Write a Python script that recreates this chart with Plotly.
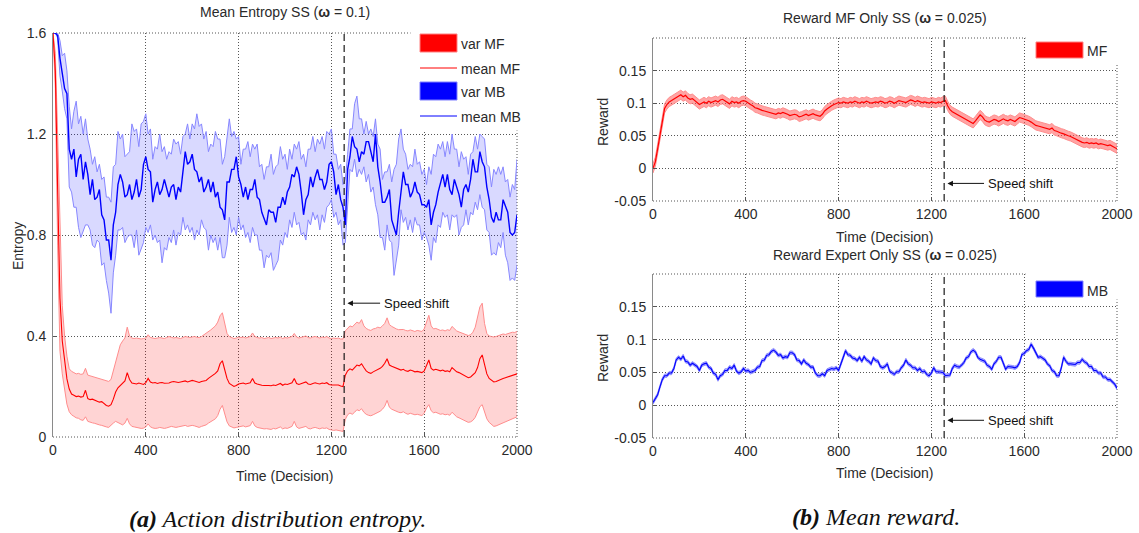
import plotly.graph_objects as go

# ---------------- data ----------------
decisions = list(range(0, 2001, 10))
speed_shift_decision = 1255

mb_entropy_mean = [
    1.60, 1.60, 1.59, 1.50, 1.44, 1.38, 1.36, 1.14, 1.10, 1.14,
    1.03, 1.10, 1.12, 1.02, 1.09, 1.04, 0.96, 1.02, 0.94, 0.95,
    0.98, 0.88, 0.86, 0.78, 0.78, 0.70, 0.84, 0.89, 1.00, 1.04,
    1.01, 0.95, 0.96, 1.00, 0.94, 0.97, 1.02, 0.95, 0.98, 1.08,
    1.11, 1.06, 1.05, 0.93, 0.98, 1.01, 0.96, 0.98, 1.02, 0.99,
    0.95, 0.99, 1.00, 0.94, 0.99, 0.97, 1.06, 1.13, 1.08, 1.09,
    1.12, 1.06, 1.05, 1.01, 1.03, 0.97, 0.99, 1.02, 0.97, 1.01,
    0.95, 0.97, 0.91, 0.90, 0.86, 1.01, 1.01, 1.06, 1.06, 1.11,
    1.03, 1.00, 0.95, 0.99, 0.94, 0.98, 0.98, 1.02, 0.95, 0.94,
    0.89, 0.86, 0.84, 0.90, 0.89, 0.89, 0.85, 0.91, 0.91, 0.95,
    0.92, 0.97, 0.99, 1.04, 1.03, 1.07, 1.04, 0.97, 0.88, 0.94,
    0.96, 1.03, 0.99, 1.03, 1.06, 1.02, 1.02, 0.98, 1.01, 1.08,
    1.09, 1.05, 0.96, 1.00, 0.94, 0.91, 0.84, 1.06, 1.11, 1.19,
    1.15, 1.14, 1.09, 1.13, 1.12, 1.17, 1.17, 1.13, 1.09, 1.20,
    1.07, 1.01, 0.93, 0.93, 0.95, 0.98, 0.86, 0.83, 0.80, 0.89,
    0.98, 1.05, 1.00, 1.00, 0.95, 0.97, 1.01, 0.97, 0.96, 0.92,
    0.92, 0.91, 0.94, 0.84, 0.89, 0.92, 0.97, 1.00, 1.04, 0.99,
    1.04, 0.98, 0.96, 1.02, 0.99, 0.96, 0.91, 0.98, 1.00, 0.97,
    1.02, 1.10, 1.05, 1.05, 1.13, 1.09, 1.07, 0.99, 0.94, 0.87,
    0.85, 0.89, 0.86, 0.86, 0.94, 0.91, 0.89, 0.81, 0.80, 0.81,
    0.88,
]
mb_entropy_upper = [
    1.60, 1.60, 1.60, 1.57, 1.51, 1.52, 1.45, 1.31, 1.22, 1.29,
    1.33, 1.24, 1.27, 1.20, 1.26, 1.18, 1.14, 1.08, 1.11, 1.05,
    1.08, 1.02, 1.03, 0.95, 0.95, 0.93, 1.07, 1.08, 1.21, 1.18,
    1.20, 1.11, 1.12, 1.13, 1.24, 1.21, 1.22, 1.15, 1.24, 1.25,
    1.28, 1.20, 1.22, 1.10, 1.15, 1.14, 1.20, 1.13, 1.15, 1.10,
    1.13, 1.12, 1.18, 1.16, 1.17, 1.12, 1.19, 1.20, 1.24, 1.18,
    1.24, 1.22, 1.28, 1.23, 1.24, 1.18, 1.21, 1.13, 1.16, 1.15,
    1.21, 1.18, 1.18, 1.08, 1.11, 1.19, 1.26, 1.19, 1.21, 1.18,
    1.19, 1.08, 1.14, 1.14, 1.17, 1.11, 1.16, 1.14, 1.16, 1.07,
    1.08, 1.02, 1.07, 1.07, 1.12, 1.04, 1.07, 1.08, 1.15, 1.10,
    1.12, 1.06, 1.14, 1.10, 1.16, 1.14, 1.17, 1.10, 1.12, 1.07,
    1.14, 1.14, 1.19, 1.13, 1.18, 1.16, 1.19, 1.14, 1.21, 1.20,
    1.22, 1.12, 1.12, 1.06, 1.08, 1.00, 1.02, 1.12, 1.22, 1.22,
    1.32, 1.35, 1.26, 1.26, 1.20, 1.25, 1.20, 1.22, 1.19, 1.26,
    1.16, 1.14, 1.02, 1.05, 1.05, 1.08, 1.01, 1.06, 1.08, 1.18,
    1.22, 1.14, 1.12, 1.06, 1.08, 1.07, 1.14, 1.08, 1.09, 1.04,
    1.06, 1.00, 1.07, 1.04, 1.12, 1.11, 1.16, 1.14, 1.17, 1.11,
    1.17, 1.12, 1.20, 1.14, 1.14, 1.07, 1.13, 1.10, 1.11, 1.04,
    1.12, 1.13, 1.19, 1.14, 1.20, 1.19, 1.18, 1.08, 1.07, 0.99,
    1.06, 1.04, 1.07, 1.04, 1.07, 1.01, 1.02, 0.95, 1.00, 0.98,
    1.10,
]
mb_entropy_lower = [
    1.60, 1.60, 1.58, 1.43, 1.37, 1.30, 1.26, 0.99, 0.97, 0.91,
    0.91, 0.83, 0.79, 0.82, 0.84, 0.84, 0.82, 0.76, 0.75, 0.78,
    0.77, 0.68, 0.69, 0.62, 0.57, 0.49, 0.65, 0.72, 0.82, 0.82,
    0.83, 0.77, 0.79, 0.80, 0.80, 0.75, 0.82, 0.72, 0.75, 0.77,
    0.83, 0.81, 0.84, 0.78, 0.80, 0.77, 0.78, 0.69, 0.75, 0.74,
    0.79, 0.77, 0.82, 0.76, 0.81, 0.80, 0.87, 0.82, 0.84, 0.81,
    0.83, 0.78, 0.82, 0.80, 0.86, 0.83, 0.82, 0.74, 0.80, 0.77,
    0.79, 0.74, 0.79, 0.71, 0.71, 0.76, 0.87, 0.81, 0.83, 0.80,
    0.87, 0.82, 0.84, 0.79, 0.81, 0.77, 0.83, 0.80, 0.80, 0.74,
    0.74, 0.67, 0.72, 0.71, 0.73, 0.66, 0.68, 0.70, 0.78, 0.76,
    0.81, 0.79, 0.86, 0.83, 0.89, 0.84, 0.85, 0.80, 0.81, 0.78,
    0.86, 0.84, 0.89, 0.86, 0.88, 0.82, 0.88, 0.85, 0.91, 0.92,
    0.94, 0.87, 0.89, 0.84, 0.86, 0.76, 0.77, 0.90, 1.06, 1.05,
    1.10, 1.03, 1.06, 1.04, 1.07, 1.01, 1.04, 0.97, 0.99, 0.92,
    0.88, 0.79, 0.79, 0.74, 0.84, 0.78, 0.77, 0.64, 0.70, 0.76,
    0.90, 0.85, 0.87, 0.82, 0.86, 0.81, 0.87, 0.84, 0.84, 0.78,
    0.81, 0.79, 0.76, 0.70, 0.79, 0.77, 0.84, 0.83, 0.89, 0.87,
    0.88, 0.82, 0.88, 0.87, 0.88, 0.80, 0.83, 0.84, 0.90, 0.84,
    0.89, 0.88, 0.93, 0.90, 0.96, 0.91, 0.90, 0.82, 0.81, 0.72,
    0.73, 0.72, 0.77, 0.75, 0.81, 0.72, 0.69, 0.62, 0.63, 0.62,
    0.68,
]
mf_entropy_mean = [
    1.60, 1.45, 0.98, 0.55, 0.38, 0.30, 0.23, 0.19, 0.17, 0.165,
    0.160, 0.162, 0.158, 0.160, 0.185, 0.152, 0.148, 0.150, 0.145, 0.142,
    0.138, 0.140, 0.132, 0.125, 0.122, 0.128, 0.150, 0.178, 0.195, 0.205,
    0.212, 0.222, 0.255, 0.228, 0.214, 0.212, 0.210, 0.214, 0.212, 0.208,
    0.215, 0.232, 0.218, 0.214, 0.216, 0.212, 0.215, 0.216, 0.213, 0.212,
    0.214, 0.218, 0.220, 0.218, 0.216, 0.218, 0.220, 0.222, 0.218, 0.220,
    0.224, 0.222, 0.218, 0.216, 0.220, 0.222, 0.224, 0.232, 0.238, 0.244,
    0.252, 0.262, 0.290, 0.302, 0.265, 0.232, 0.212, 0.205, 0.200, 0.204,
    0.210, 0.212, 0.214, 0.210, 0.212, 0.215, 0.232, 0.214, 0.210, 0.206,
    0.205, 0.204, 0.205, 0.204, 0.203, 0.206, 0.204, 0.208, 0.212, 0.205,
    0.210, 0.208, 0.212, 0.215, 0.232, 0.212, 0.208, 0.212, 0.214, 0.218,
    0.210, 0.208, 0.212, 0.215, 0.212, 0.210, 0.214, 0.212, 0.215, 0.208,
    0.206, 0.205, 0.204, 0.206, 0.202, 0.200, 0.245, 0.262, 0.270, 0.265,
    0.275, 0.285, 0.282, 0.290, 0.275, 0.262, 0.255, 0.252, 0.258, 0.262,
    0.268, 0.272, 0.280, 0.292, 0.310, 0.285, 0.280, 0.276, 0.272, 0.268,
    0.265, 0.268, 0.262, 0.260, 0.265, 0.262, 0.258, 0.260, 0.256, 0.255,
    0.262, 0.285, 0.305, 0.272, 0.265, 0.268, 0.265, 0.262, 0.265, 0.260,
    0.262, 0.258, 0.275, 0.265, 0.258, 0.255, 0.250, 0.245, 0.238, 0.235,
    0.238, 0.245, 0.255, 0.275, 0.310, 0.325, 0.285, 0.250, 0.232, 0.225,
    0.218, 0.220, 0.225, 0.230, 0.232, 0.235, 0.238, 0.240, 0.242, 0.245,
    0.250,
]
mf_entropy_upper = [
    1.60, 1.52, 1.20, 0.80, 0.52, 0.40, 0.32, 0.27, 0.26, 0.255,
    0.250, 0.252, 0.248, 0.250, 0.272, 0.245, 0.242, 0.240, 0.238, 0.235,
    0.232, 0.230, 0.226, 0.222, 0.220, 0.228, 0.262, 0.300, 0.340, 0.365,
    0.380, 0.392, 0.435, 0.400, 0.392, 0.390, 0.392, 0.390, 0.388, 0.390,
    0.392, 0.405, 0.394, 0.392, 0.390, 0.392, 0.394, 0.392, 0.390, 0.394,
    0.398, 0.395, 0.392, 0.394, 0.392, 0.390, 0.394, 0.398, 0.396, 0.394,
    0.396, 0.398, 0.395, 0.394, 0.398, 0.404, 0.410, 0.418, 0.424, 0.432,
    0.440, 0.455, 0.480, 0.492, 0.450, 0.410, 0.398, 0.394, 0.390, 0.392,
    0.396, 0.394, 0.396, 0.392, 0.394, 0.398, 0.412, 0.398, 0.394, 0.392,
    0.394, 0.390, 0.392, 0.394, 0.390, 0.392, 0.394, 0.392, 0.396, 0.390,
    0.394, 0.392, 0.396, 0.398, 0.410, 0.396, 0.392, 0.395, 0.398, 0.400,
    0.394, 0.392, 0.396, 0.398, 0.395, 0.392, 0.396, 0.394, 0.398, 0.392,
    0.390, 0.392, 0.390, 0.392, 0.388, 0.388, 0.420, 0.432, 0.440, 0.436,
    0.445, 0.455, 0.450, 0.465, 0.440, 0.430, 0.425, 0.422, 0.428, 0.430,
    0.435, 0.432, 0.440, 0.450, 0.472, 0.445, 0.438, 0.432, 0.428, 0.425,
    0.424, 0.426, 0.422, 0.420, 0.424, 0.420, 0.418, 0.422, 0.420, 0.418,
    0.428, 0.455, 0.482, 0.440, 0.428, 0.430, 0.426, 0.422, 0.424, 0.420,
    0.425, 0.422, 0.438, 0.428, 0.420, 0.416, 0.412, 0.410, 0.405, 0.402,
    0.405, 0.415, 0.435, 0.470, 0.515, 0.530, 0.450, 0.410, 0.400, 0.398,
    0.396, 0.398, 0.402, 0.405, 0.408, 0.406, 0.410, 0.412, 0.415, 0.414,
    0.418,
]
mf_entropy_lower = [
    1.60, 1.38, 0.76, 0.34, 0.25, 0.19, 0.13, 0.10, 0.088, 0.082,
    0.076, 0.074, 0.068, 0.066, 0.080, 0.062, 0.058, 0.056, 0.054, 0.050,
    0.048, 0.046, 0.042, 0.040, 0.038, 0.048, 0.055, 0.062, 0.058, 0.052,
    0.048, 0.055, 0.074, 0.052, 0.042, 0.040, 0.038, 0.036, 0.034, 0.035,
    0.040, 0.052, 0.040, 0.036, 0.034, 0.035, 0.038, 0.036, 0.034, 0.036,
    0.038, 0.042, 0.040, 0.038, 0.040, 0.042, 0.044, 0.046, 0.042, 0.044,
    0.046, 0.044, 0.040, 0.038, 0.042, 0.045, 0.048, 0.055, 0.060, 0.066,
    0.072, 0.085, 0.110, 0.125, 0.092, 0.060, 0.044, 0.040, 0.036, 0.038,
    0.040, 0.042, 0.044, 0.040, 0.042, 0.045, 0.062, 0.044, 0.038, 0.035,
    0.034, 0.032, 0.033, 0.032, 0.030, 0.034, 0.032, 0.036, 0.040, 0.032,
    0.036, 0.034, 0.038, 0.042, 0.062, 0.040, 0.034, 0.036, 0.038, 0.042,
    0.034, 0.032, 0.036, 0.038, 0.035, 0.032, 0.036, 0.034, 0.036, 0.030,
    0.028, 0.026, 0.028, 0.026, 0.024, 0.022, 0.070, 0.088, 0.095, 0.090,
    0.098, 0.108, 0.104, 0.112, 0.098, 0.090, 0.086, 0.084, 0.088, 0.092,
    0.098, 0.102, 0.110, 0.122, 0.145, 0.118, 0.110, 0.105, 0.100, 0.098,
    0.096, 0.100, 0.094, 0.090, 0.094, 0.092, 0.088, 0.090, 0.086, 0.085,
    0.094, 0.115, 0.128, 0.104, 0.096, 0.098, 0.094, 0.090, 0.092, 0.088,
    0.090, 0.086, 0.098, 0.088, 0.080, 0.076, 0.072, 0.068, 0.062, 0.058,
    0.060, 0.066, 0.078, 0.098, 0.120, 0.128, 0.100, 0.072, 0.058, 0.050,
    0.042, 0.044, 0.048, 0.052, 0.055, 0.058, 0.062, 0.066, 0.070, 0.074,
    0.080,
]
mf_reward_mean = [
    0.000, 0.010, 0.030, 0.050, 0.070, 0.092, 0.098, 0.102, 0.104, 0.106,
    0.108, 0.110, 0.113, 0.110, 0.112, 0.108, 0.106, 0.107, 0.104, 0.101,
    0.098, 0.100, 0.102, 0.100, 0.103, 0.101, 0.102, 0.104, 0.102, 0.105,
    0.106, 0.104, 0.101, 0.099, 0.103, 0.101, 0.102, 0.100, 0.103, 0.104,
    0.103, 0.100, 0.098, 0.096, 0.093, 0.092, 0.090, 0.089, 0.088, 0.087,
    0.086, 0.085, 0.084, 0.083, 0.085, 0.084, 0.086, 0.085, 0.083, 0.081,
    0.082, 0.083, 0.082, 0.079, 0.080, 0.082, 0.083, 0.081, 0.083, 0.084,
    0.082, 0.081, 0.080, 0.083, 0.088, 0.091, 0.094, 0.096, 0.098, 0.100,
    0.101, 0.100, 0.102, 0.101, 0.100, 0.102, 0.101, 0.103, 0.101, 0.100,
    0.102, 0.101, 0.103, 0.102, 0.100, 0.101, 0.102, 0.101, 0.103, 0.102,
    0.100, 0.101, 0.103, 0.102, 0.100, 0.102, 0.104, 0.103, 0.102, 0.101,
    0.103, 0.105, 0.104, 0.102, 0.104, 0.103, 0.101, 0.102, 0.101, 0.100,
    0.102, 0.101, 0.100, 0.102, 0.101, 0.103, 0.104, 0.096, 0.090, 0.087,
    0.085, 0.083, 0.080, 0.078, 0.076, 0.074, 0.072, 0.070, 0.069, 0.073,
    0.078, 0.082, 0.079, 0.074, 0.072, 0.071, 0.073, 0.075, 0.074, 0.072,
    0.074, 0.076, 0.074, 0.073, 0.075, 0.073, 0.072, 0.075, 0.078, 0.077,
    0.076, 0.075, 0.073, 0.071, 0.068, 0.066, 0.065, 0.064, 0.063, 0.062,
    0.061, 0.060, 0.062, 0.058, 0.057, 0.055, 0.054, 0.053, 0.051, 0.050,
    0.049, 0.047, 0.045, 0.043, 0.042, 0.040, 0.039, 0.040, 0.038, 0.039,
    0.038, 0.039, 0.037, 0.038, 0.037, 0.036, 0.035, 0.036, 0.034, 0.032,
    0.030,
]
mf_reward_halfwidth = 0.007
mb_reward_mean = [
    0.004, 0.011, 0.016, 0.028, 0.039, 0.045, 0.045, 0.049, 0.049, 0.056,
    0.069, 0.073, 0.070, 0.075, 0.067, 0.066, 0.061, 0.064, 0.061, 0.059,
    0.053, 0.061, 0.063, 0.064, 0.058, 0.056, 0.049, 0.047, 0.039, 0.045,
    0.047, 0.053, 0.053, 0.058, 0.056, 0.061, 0.052, 0.049, 0.051, 0.056,
    0.052, 0.053, 0.050, 0.052, 0.053, 0.058, 0.059, 0.068, 0.069, 0.076,
    0.077, 0.082, 0.084, 0.081, 0.076, 0.077, 0.072, 0.074, 0.073, 0.080,
    0.080, 0.077, 0.069, 0.068, 0.063, 0.069, 0.064, 0.062, 0.058, 0.058,
    0.049, 0.045, 0.045, 0.048, 0.045, 0.053, 0.055, 0.056, 0.055, 0.057,
    0.053, 0.063, 0.075, 0.083, 0.077, 0.076, 0.072, 0.071, 0.068, 0.073,
    0.067, 0.074, 0.069, 0.067, 0.063, 0.072, 0.068, 0.067, 0.059, 0.057,
    0.059, 0.063, 0.052, 0.050, 0.047, 0.051, 0.051, 0.057, 0.061, 0.069,
    0.063, 0.061, 0.057, 0.057, 0.053, 0.056, 0.051, 0.052, 0.047, 0.045,
    0.049, 0.057, 0.051, 0.051, 0.050, 0.050, 0.045, 0.045, 0.046, 0.056,
    0.061, 0.059, 0.058, 0.061, 0.065, 0.072, 0.074, 0.081, 0.084, 0.081,
    0.073, 0.070, 0.069, 0.067, 0.061, 0.059, 0.055, 0.063, 0.067, 0.073,
    0.073, 0.063, 0.055, 0.059, 0.059, 0.058, 0.057, 0.059, 0.065, 0.077,
    0.079, 0.083, 0.085, 0.093, 0.087, 0.079, 0.073, 0.074, 0.071, 0.069,
    0.063, 0.060, 0.053, 0.051, 0.045, 0.045, 0.057, 0.073, 0.067, 0.063,
    0.063, 0.063, 0.062, 0.065, 0.065, 0.070, 0.066, 0.064, 0.059, 0.059,
    0.053, 0.053, 0.049, 0.049, 0.043, 0.043, 0.039, 0.039, 0.035, 0.032,
    0.026,
]
mb_reward_halfwidth = 0.0025

x_ticks = [0, 400, 800, 1200, 1600, 2000]
entropy_ticks = [0, 0.4, 0.8, 1.2, 1.6]
entropy_ticktext = ["0", "0.4", "0.8", "1.2", "1.6"]
reward_ticks = [-0.05, 0, 0.05, 0.1, 0.15]
reward_ticktext = ["-0.05", "0", "0.05", "0.1", "0.15"]

for arr in [mb_entropy_mean, mb_entropy_upper, mb_entropy_lower, mf_entropy_mean,
            mf_entropy_upper, mf_entropy_lower, mf_reward_mean, mb_reward_mean]:
    assert len(arr) == len(decisions), len(arr)

# ---------------- layout helpers ----------------
W, H = 1139, 533
def PX(x):
    return x / W
def PY(y):
    return 1 - y / H

FONT = "Liberation Sans, Arial, Helvetica, sans-serif"
TXT = "#2a2a2a"

fig = go.Figure()

def band(xa, ya, lower, upper, edge, fill, width=1):
    fig.add_trace(go.Scatter(x=decisions, y=lower, mode="lines", line=dict(color=edge, width=width),
                             xaxis=xa, yaxis=ya, showlegend=False, hoverinfo="skip"))
    fig.add_trace(go.Scatter(x=decisions, y=upper, mode="lines", line=dict(color=edge, width=width),
                             fill="tonexty", fillcolor=fill,
                             xaxis=xa, yaxis=ya, showlegend=False, hoverinfo="skip"))

# Left: entropy
band("x", "y", mf_entropy_lower, mf_entropy_upper, "rgb(255,140,140)", "rgba(255,0,0,0.17)")
band("x", "y", mb_entropy_lower, mb_entropy_upper, "rgb(135,135,255)", "rgba(0,0,255,0.15)")
fig.add_trace(go.Scatter(x=decisions, y=mb_entropy_mean, mode="lines", name="mean MB",
                         line=dict(color="#0000ff", width=1.4), xaxis="x", yaxis="y", showlegend=False))
fig.add_trace(go.Scatter(x=decisions, y=mf_entropy_mean, mode="lines", name="mean MF",
                         line=dict(color="#ff0000", width=1.1), xaxis="x", yaxis="y", showlegend=False))

# Right top: MF reward
mf_lo = [v - mf_reward_halfwidth for v in mf_reward_mean]
mf_hi = [v + mf_reward_halfwidth for v in mf_reward_mean]
band("x2", "y2", mf_lo, mf_hi, "rgb(255,140,140)", "rgba(255,90,90,0.55)")
fig.add_trace(go.Scatter(x=decisions, y=mf_reward_mean, mode="lines", name="MF",
                         line=dict(color="#ff0000", width=1.2), xaxis="x2", yaxis="y2", showlegend=False))

# Right bottom: MB reward
mb_lo = [v - mb_reward_halfwidth for v in mb_reward_mean]
mb_hi = [v + mb_reward_halfwidth for v in mb_reward_mean]
band("x3", "y3", mb_lo, mb_hi, "rgb(140,140,255)", "rgba(90,90,255,0.5)")
fig.add_trace(go.Scatter(x=decisions, y=mb_reward_mean, mode="lines", name="MB",
                         line=dict(color="#0000ff", width=1.1), xaxis="x3", yaxis="y3", showlegend=False))

# ---------------- axes ----------------
boxes = {
    "1": (53, 517, 33, 437),
    "2": (653, 1117, 38, 201),
    "3": (653, 1117, 274, 438),
}
xcommon = dict(range=[0, 2000], tickvals=x_ticks, showgrid=True, gridcolor="#555",
               griddash="1px,2px", gridwidth=1, zeroline=False, ticks="inside", ticklen=4,
               tickcolor="#555", showline=False, tickfont=dict(family=FONT, size=14, color=TXT),
               ticklabelstandoff=3, automargin=False)
ycommon = dict(showgrid=True, gridcolor="#555", griddash="1px,2px", gridwidth=1, zeroline=False,
               ticks="inside", ticklen=4, tickcolor="#555", showline=True, linecolor="#8a8a8a",
               linewidth=1, tickfont=dict(family=FONT, size=14, color=TXT), ticklabelstandoff=3,
               automargin=False)

for k, (x0, x1, t, b) in boxes.items():
    xname = "xaxis" if k == "1" else f"xaxis{k}"
    yname = "yaxis" if k == "1" else f"yaxis{k}"
    xa = dict(xcommon, domain=[PX(x0), PX(x1)], anchor="y" if k == "1" else f"y{k}")
    if k == "1":
        ya = dict(ycommon, domain=[PY(b), PY(t)], range=[0, 1.6], tickvals=entropy_ticks,
                  ticktext=entropy_ticktext, anchor="x")
    else:
        ya = dict(ycommon, domain=[PY(b), PY(t)], range=[-0.05, 0.2], tickvals=reward_ticks,
                  ticktext=reward_ticktext, anchor=f"x{k}")
    fig.update_layout({xname: xa, yname: ya})

shapes = []
annotations = []
for xr, yr in [("x", "y"), ("x2", "y2"), ("x3", "y3")]:
    for (a0, b0, a1, b1) in [(0, 1, 1, 1), (1, 0, 1, 1), (0, 0, 1, 0)]:
        shapes.append(dict(type="line", xref=f"{xr} domain", yref=f"{yr} domain",
                           x0=a0, y0=b0, x1=a1, y1=b1,
                           line=dict(color="#555", width=1, dash="1px,2px"), layer="below"))
    shapes.append(dict(type="line", xref=xr, yref=f"{yr} domain", x0=speed_shift_decision,
                       x1=speed_shift_decision, y0=0, y1=1,
                       line=dict(color="#1a1a1a", width=1.2, dash="7px,4px"), layer="above"))

# speed shift arrows
for xr, yr, yv, xt in [("x", "y", 0.53, 1565), ("x2", "y2", -0.023, 1582), ("x3", "y3", -0.023, 1582)]:
    annotations.append(dict(x=speed_shift_decision + 14, y=yv, xref=xr, yref=yr,
                            ax=xt, ay=yv, axref=xr, ayref=yr, text="Speed shift",
                            showarrow=True, arrowhead=2, arrowsize=1.1, arrowwidth=1,
                            arrowcolor="#111", standoff=0, startstandoff=2,
                            font=dict(family=FONT, size=13, color="#111")))

def rect(x0, y0, x1, y1, fill, line=None):
    shapes.append(dict(type="rect", xref="paper", yref="paper", x0=PX(x0), x1=PX(x1),
                       y0=PY(y1), y1=PY(y0), fillcolor=fill,
                       line=dict(color=line or fill, width=1), layer="above"))

def hline(x0, x1, y, color, width=1):
    shapes.append(dict(type="line", xref="paper", yref="paper", x0=PX(x0), x1=PX(x1),
                       y0=PY(y), y1=PY(y), line=dict(color=color, width=width), layer="above"))

def text(x, y, s, size=14, xanchor="left", color=TXT, angle=0, family=FONT):
    annotations.append(dict(x=PX(x), y=PY(y), xref="paper", yref="paper", text=s,
                            showarrow=False, xanchor=xanchor, yanchor="middle",
                            textangle=angle, font=dict(family=family, size=size, color=color)))

# legends (left)
rect(411, 28, 530, 130, "white", "white")
rect(420, 34, 457, 52, "#ff0000", "#ff8080")
hline(420, 457, 68, "#ff0000")
rect(420, 82, 457, 100, "#0000ff", "#8080ff")
hline(420, 457, 116, "#0000ff")
text(459, 44, "var MF")
text(459, 69, "mean MF")
text(459, 92, "var MB")
text(459, 117, "mean MB")
# legends (right)
rect(1026, 34, 1128, 63, "white", "white")
rect(1036, 42, 1083, 58, "#ff0000", "#ff8080")
text(1085, 51, "MF")
rect(1026, 270, 1128, 299, "white", "white")
rect(1036, 281, 1083, 297, "#0000ff", "#8080ff")
text(1085, 291, "MB")

# titles and axis labels
text(285, 12, "Mean Entropy SS (<b>ω</b> = 0.1)", xanchor="center")
text(885, 18, "Reward MF Only SS (<b>ω</b> = 0.025)", xanchor="center")
text(885, 255, "Reward Expert Only SS (<b>ω</b> = 0.025)", xanchor="center")
text(285, 476, "Time (Decision)", xanchor="center")
text(885, 237, "Time (Decision)", xanchor="center")
text(885, 473, "Time (Decision)", xanchor="center")
text(18, 246, "Entropy", xanchor="center", angle=-90)
text(603, 122, "Reward", xanchor="center", angle=-90)
text(603, 358, "Reward", xanchor="center", angle=-90)

SERIF = "Liberation Serif, Times New Roman, serif"
text(277, 519, "<b><i>(a)</i></b><i> Action distribution entropy.</i>", size=24,
     xanchor="center", color="#111", family=SERIF)
text(876, 517, "<b><i>(b)</i></b><i> Mean reward.</i>", size=24,
     xanchor="center", color="#111", family=SERIF)

fig.update_layout(
    width=W, height=H, autosize=False,
    margin=dict(l=0, r=0, t=0, b=0, autoexpand=False),
    paper_bgcolor="white", plot_bgcolor="white",
    showlegend=False,
    shapes=shapes, annotations=annotations,
    font=dict(family=FONT, color=TXT),
)

fig.write_html(
    "out.html",
    config={"displayModeBar": False},
    post_script="document.body.style.margin='0px';document.body.style.padding='0px';"
                "document.documentElement.style.overflow='hidden';",
)
